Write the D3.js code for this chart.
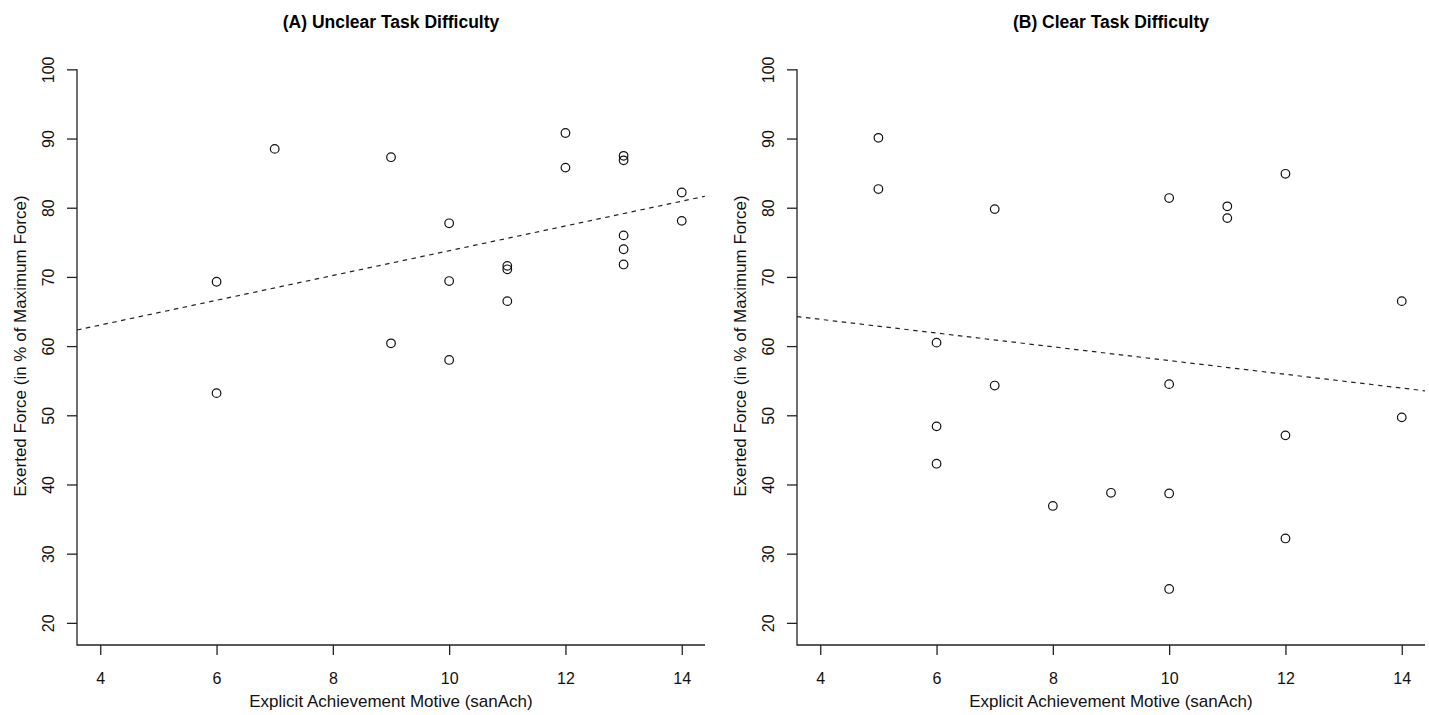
<!DOCTYPE html>
<html>
<head>
<meta charset="utf-8">
<script src="https://cdn.jsdelivr.net/npm/d3@7"></script>
<style>
  body { margin: 0; background: #fff; }
  svg { display: block; font-family: "Liberation Sans", Arial, sans-serif; }
</style>
</head>
<body>
<svg id="chart" width="1429" height="715"></svg>
<script>
// panel A - unclear task difficulty
var xA = [7, 9, 12, 12, 13, 13, 14, 14, 10, 13, 13, 13, 11, 11, 11, 6, 10, 9, 10, 6];
var yA = [88.5, 87.3, 90.8, 85.8, 87.5, 86.85, 82.2, 78.1, 77.75, 76.0, 74.0, 71.8, 71.6, 71.1, 66.5, 69.3, 69.4, 60.4, 58.0, 53.2];
// panel B - clear task difficulty
var xB = [5, 5, 7, 10, 11, 11, 12, 14, 6, 7, 10, 14, 12, 6, 6, 8, 9, 10, 12, 10];
var yB = [90.1, 82.7, 79.8, 81.4, 80.2, 78.5, 84.9, 66.5, 60.5, 54.3, 54.5, 49.7, 47.1, 48.4, 43.0, 36.9, 38.8, 38.7, 32.2, 24.9];

var titles = ["(A) Unclear Task Difficulty", "(B) Clear Task Difficulty"];
var xTicks = [4, 6, 8, 10, 12, 14];
var yTicks = [20, 30, 40, 50, 60, 70, 80, 90, 100];
var xLabel = "Explicit Achievement Motive (sanAch)";
var yLabel = "Exerted Force (in % of Maximum Force)";

var svg = d3.select("#chart");
var plotTop = 47.2, plotBottom = 645;

function fit(xs, ys) {
    var mx = d3.mean(xs), my = d3.mean(ys);
    var sxy = 0, sxx = 0;
    for (var i = 0; i < xs.length; i++) {
        sxy += (xs[i] - mx) * (ys[i] - my);
        sxx += (xs[i] - mx) * (xs[i] - mx);
    }
    var b = sxy / sxx;
    return { a: my - b * mx, b: b };
}

function drawPanel(left, right, xs, ys, title, id) {
    var x = d3.scaleLinear().domain([3.6, 14.4]).range([left, right]);
    var y = d3.scaleLinear().domain([16.8, 103.2]).range([plotBottom, plotTop]);
    var g = svg.append("g");

    g.append("defs").append("clipPath").attr("id", "clip" + id)
        .append("rect")
        .attr("x", left).attr("y", plotTop)
        .attr("width", right - left).attr("height", plotBottom - plotTop);

    // L shaped frame
    g.append("path")
        .attr("d", "M" + left + "," + y(100) + "V" + plotBottom + "H" + right)
        .attr("fill", "none")
        .attr("stroke", "#222")
        .attr("stroke-width", 1.3);

    var xAxis = g.append("g")
        .attr("transform", "translate(0," + plotBottom + ")")
        .call(d3.axisBottom(x).tickValues(xTicks).tickSize(10).tickFormat(d3.format("d")));
    xAxis.select(".domain").remove();
    xAxis.selectAll("line").attr("stroke", "#222").attr("stroke-width", 1.3);
    xAxis.selectAll("text")
        .attr("y", 39).attr("dy", 0)
        .attr("font-size", 16).attr("fill", "#111")
        .attr("font-family", "Liberation Sans, Arial, sans-serif");

    var yAxis = g.append("g")
        .attr("transform", "translate(" + left + ",0)")
        .call(d3.axisLeft(y).tickValues(yTicks).tickSize(10).tickFormat(d3.format("d")));
    yAxis.select(".domain").remove();
    yAxis.selectAll("line").attr("stroke", "#222").attr("stroke-width", 1.3);
    yAxis.selectAll("text")
        .attr("x", 0).attr("dy", 0)
        .attr("transform", "translate(-23,0) rotate(-90)")
        .attr("text-anchor", "middle")
        .attr("font-size", 16).attr("fill", "#111")
        .attr("font-family", "Liberation Sans, Arial, sans-serif");

    // regression line
    var f = fit(xs, ys);
    var dom = x.domain();
    g.append("line")
        .attr("clip-path", "url(#clip" + id + ")")
        .attr("x1", x(dom[0])).attr("y1", y(f.a + f.b * dom[0]))
        .attr("x2", x(dom[1])).attr("y2", y(f.a + f.b * dom[1]))
        .attr("stroke", "#222")
        .attr("stroke-width", 1.2)
        .attr("stroke-dasharray", "4.5,4.5");

    g.selectAll("circle.pt")
        .data(xs.map(function (d, i) { return [d, ys[i]]; }))
        .enter().append("circle")
        .attr("class", "pt")
        .attr("cx", function (d) { return x(d[0]); })
        .attr("cy", function (d) { return y(d[1]); })
        .attr("r", 4.3)
        .attr("fill", "none")
        .attr("stroke", "#111")
        .attr("stroke-width", 1.2);

    var cx = (left + right) / 2;
    g.append("text")
        .attr("x", cx).attr("y", 28)
        .attr("text-anchor", "middle")
        .attr("font-size", 17.5).attr("font-weight", "bold")
        .attr("fill", "#000")
        .text(title);

    g.append("text")
        .attr("x", cx).attr("y", 707)
        .attr("text-anchor", "middle")
        .attr("font-size", 17).attr("fill", "#111")
        .text(xLabel);

    g.append("text")
        .attr("transform", "translate(" + (left - 51) + "," + ((plotTop + plotBottom) / 2) + ") rotate(-90)")
        .attr("text-anchor", "middle")
        .attr("font-size", 17).attr("fill", "#111")
        .text(yLabel);
}

drawPanel(77, 705, xA, yA, titles[0], "A");
drawPanel(797, 1425, xB, yB, titles[1], "B");
</script>
</body>
</html>
